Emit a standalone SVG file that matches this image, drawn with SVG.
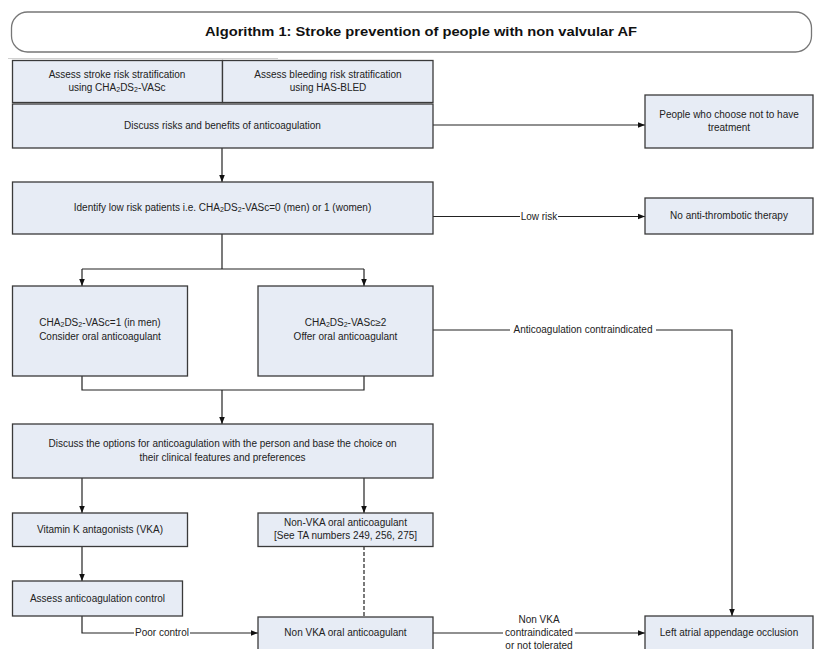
<svg xmlns="http://www.w3.org/2000/svg" width="814" height="649" viewBox="0 0 814 649">
<defs>
<marker id="ah" viewBox="0 0 10 10" refX="10" refY="5" markerWidth="7" markerHeight="7" markerUnits="userSpaceOnUse" orient="auto">
<path d="M0,1 L10,5 L0,9 Z" fill="#111"/>
</marker>
<style>
.box{fill:#e7ecf5;stroke:#3a3a3a;stroke-width:1.3}
.t{font-family:"Liberation Sans",Arial,sans-serif;font-size:10px;fill:#222;text-anchor:middle;dominant-baseline:middle}
.lbl{font-family:"Liberation Sans",Arial,sans-serif;font-size:10px;fill:#222;text-anchor:middle;dominant-baseline:middle}
.c{fill:none;stroke:#222;stroke-width:1.2}
.ca{fill:none;stroke:#222;stroke-width:1.2;marker-end:url(#ah)}
.bg{fill:#fff}
</style>
</defs>
<rect width="814" height="649" fill="#fff"/>

<g id="title">
<rect x="11.5" y="12" width="800" height="40" rx="16" ry="16" fill="#fff" stroke="#777" stroke-width="1.3"/>
<text x="421" y="32.5" font-family="'Liberation Sans',Arial,sans-serif" font-size="13" font-weight="bold" fill="#111" text-anchor="middle" dominant-baseline="middle" textLength="432" lengthAdjust="spacingAndGlyphs">Algorithm 1: Stroke prevention of people with non valvular AF</text>
<line x1="8" y1="58.5" x2="278" y2="58.5" stroke="#d0d0d0" stroke-width="1"/>
</g>

<g id="connectors">
<line class="ca" x1="433" y1="125" x2="645" y2="125"/>
<line class="ca" x1="222" y1="148" x2="222" y2="182"/>
<line class="ca" x1="433" y1="216.5" x2="645" y2="216.5"/>
<polyline class="c" points="222,234 222,269"/>
<line class="c" x1="82" y1="269" x2="364" y2="269"/>
<line class="ca" x1="82" y1="269" x2="82" y2="286"/>
<line class="ca" x1="364" y1="269" x2="364" y2="286"/>
<polyline class="ca" points="433,330 732,330 732,616"/>
<polyline class="c" points="82,376 82,390 364,390 364,376"/>
<line class="ca" x1="222" y1="390" x2="222" y2="424"/>
<line class="ca" x1="82" y1="478" x2="82" y2="513"/>
<line class="ca" x1="364" y1="478" x2="364" y2="513"/>
<line class="ca" x1="82" y1="546" x2="82" y2="581"/>
<polyline class="ca" points="82,616 82,633 258,633"/>
<line class="c" x1="364" y1="546" x2="364" y2="617" stroke-dasharray="4,2" stroke="#777"/>
<line class="ca" x1="433" y1="633" x2="645" y2="633"/>
<rect class="bg" x="520" y="210" width="38" height="13"/>
<text class="lbl" x="539" y="217">Low risk</text>
<rect class="bg" x="510" y="324" width="146" height="13"/>
<text class="lbl" x="583" y="330.5">Anticoagulation contraindicated</text>
<rect class="bg" x="134" y="627" width="56" height="13"/>
<text class="lbl" x="162" y="633.5">Poor control</text>
<rect class="bg" x="503" y="627" width="72" height="12"/>
<text class="lbl" x="539" y="620">Non VKA</text>
<text class="lbl" x="539" y="633">contraindicated</text>
<text class="lbl" x="539" y="646">or not tolerated</text>
</g>

<g id="n-stroke-risk">
<rect class="box" x="12.5" y="60.5" width="210" height="42"/>
<text class="t" x="117" y="75">Assess stroke risk stratification</text>
<text class="t" x="117" y="88">using CHA<tspan font-size="7" dy="2">2</tspan><tspan dy="-2">DS</tspan><tspan font-size="7" dy="2">2</tspan><tspan dy="-2">-VASc</tspan></text>
</g>
<g id="n-bleeding-risk">
<rect class="box" x="222.5" y="60.5" width="210.5" height="42"/>
<text class="t" x="328" y="75">Assess bleeding risk stratification</text>
<text class="t" x="328" y="88">using HAS-BLED</text>
</g>
<g id="n-discuss-risks">
<rect class="box" x="12.5" y="104" width="420.5" height="44"/>
<text class="t" x="222.5" y="126">Discuss risks and benefits of anticoagulation</text>
</g>
<g id="n-no-treatment">
<rect class="box" x="645" y="95" width="168" height="53"/>
<text class="t" x="729" y="115">People who choose not to have</text>
<text class="t" x="729" y="128">treatment</text>
</g>
<g id="n-identify">
<rect class="box" x="12.5" y="182" width="420.5" height="52"/>
<text class="t" x="222.5" y="208">Identify low risk patients i.e. CHA<tspan font-size="7" dy="2">2</tspan><tspan dy="-2">DS</tspan><tspan font-size="7" dy="2">2</tspan><tspan dy="-2">-VASc=0 (men) or 1 (women)</tspan></text>
</g>
<g id="n-no-antithrombotic">
<rect class="box" x="645" y="198" width="168" height="36"/>
<text class="t" x="729" y="216.5">No anti-thrombotic therapy</text>
</g>
<g id="n-score1">
<rect class="box" x="12.5" y="286" width="175" height="90"/>
<text class="t" x="100" y="323" font-size="9.5">CHA<tspan font-size="7" dy="2">2</tspan><tspan dy="-2">DS</tspan><tspan font-size="7" dy="2">2</tspan><tspan dy="-2">-VASc=1 (in men)</tspan></text>
<text class="t" x="100" y="337.5">Consider oral anticoagulant</text>
</g>
<g id="n-score2">
<rect class="box" x="258" y="286" width="175" height="90"/>
<text class="t" x="345.5" y="323">CHA<tspan font-size="7" dy="2">2</tspan><tspan dy="-2">DS</tspan><tspan font-size="7" dy="2">2</tspan><tspan dy="-2">-VASc≥2</tspan></text>
<text class="t" x="345.5" y="337.5">Offer oral anticoagulant</text>
</g>
<g id="n-discuss-options">
<rect class="box" x="12.5" y="424" width="420.5" height="54"/>
<text class="t" x="222.5" y="444.5">Discuss the options for anticoagulation with the person and base the choice on</text>
<text class="t" x="222.5" y="458.5">their clinical features and preferences</text>
</g>
<g id="n-vka">
<rect class="box" x="12.5" y="513" width="175" height="33.5"/>
<text class="t" x="100" y="530">Vitamin K antagonists (VKA)</text>
</g>
<g id="n-nonvka-ta">
<rect class="box" x="258" y="513" width="175" height="33.5"/>
<text class="t" x="345.5" y="523.5">Non-VKA oral anticoagulant</text>
<text class="t" x="345.5" y="536.5">[See TA numbers 249, 256, 275]</text>
</g>
<g id="n-assess-control">
<rect class="box" x="12.5" y="581" width="170" height="35"/>
<text class="t" x="97.5" y="599">Assess anticoagulation control</text>
</g>
<g id="n-nonvka">
<rect class="box" x="258" y="617" width="175" height="40"/>
<text class="t" x="345.5" y="633.5">Non VKA oral anticoagulant</text>
</g>
<g id="n-laa">
<rect class="box" x="645" y="616" width="168" height="40"/>
<text class="t" x="729" y="633.5">Left atrial appendage occlusion</text>
</g>
</svg>
